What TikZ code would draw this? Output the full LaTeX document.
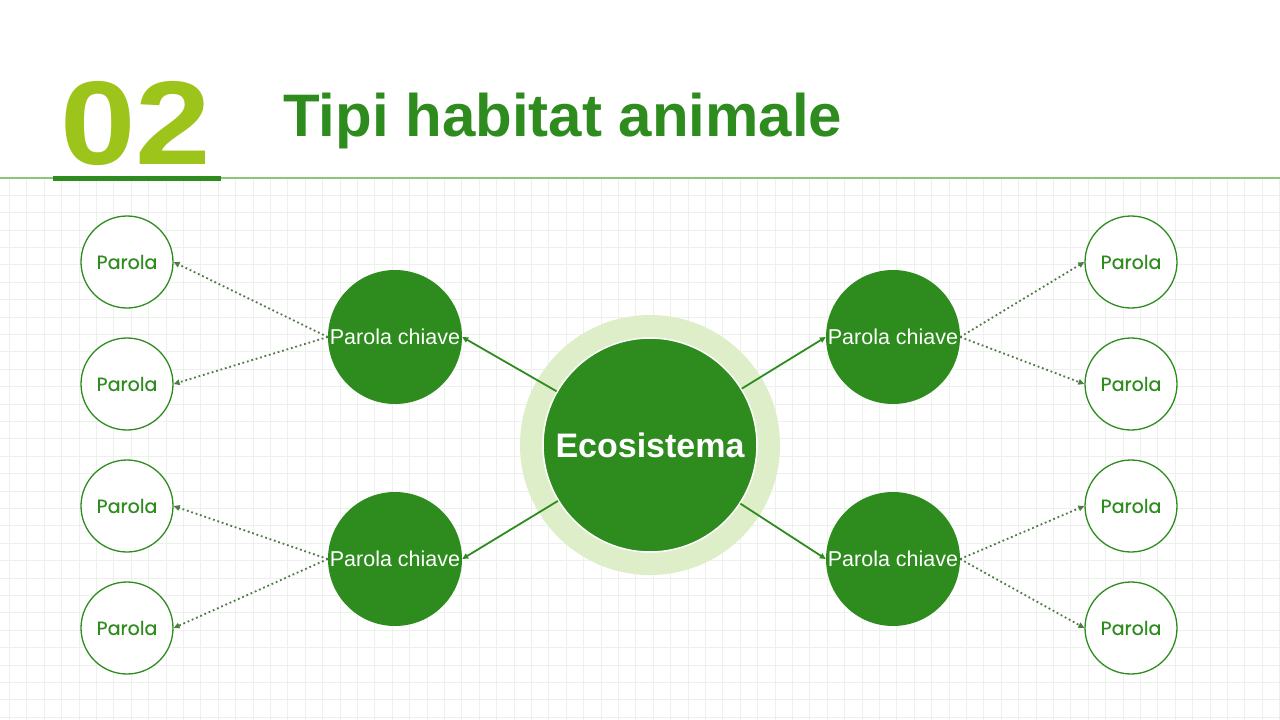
\documentclass[tikz,border=0pt]{standalone}
\usepackage{fontspec}
\setmainfont{Liberation Sans}
\newfontfamily\wordfont{Poppins}[FakeBold=0.5]
\usetikzlibrary{arrows.meta,positioning}
\definecolor{leafgreen}{RGB}{46,139,30}
\definecolor{limegreen}{RGB}{157,196,26}
\definecolor{ringgreen}{RGB}{221,238,200}
\definecolor{rulegreen}{RGB}{140,196,120}
\definecolor{dotgreen}{RGB}{78,122,68}
\definecolor{gridgray}{RGB}{237,240,237}
\tikzset{
  hub/.style={circle, fill=leafgreen, draw=white, line width=1.5pt,
    minimum size=214pt, inner sep=0pt, text=white,
    font=\fontsize{34}{40}\selectfont\bfseries},
  keyword/.style={circle, fill=leafgreen, minimum size=134pt, inner sep=0pt,
    text=white, font=\fontsize{21.5}{26}\selectfont},
  leaf/.style={circle, draw=leafgreen, fill=white, line width=1.3pt,
    minimum size=92pt, inner sep=0pt, text=leafgreen,
    font=\wordfont\fontsize{19}{22}\selectfont},
  spoke/.style={leafgreen, line width=1.8pt, -{Triangle[length=6pt,width=5.5pt]}},
  twig/.style={dotgreen, line width=1.8pt, dash pattern=on 1.8pt off 2.8pt,
    -{Triangle[length=6pt,width=5.5pt]}},
  gridline/.style={gridgray, line width=0.8pt}
}
\begin{document}
\begin{tikzpicture}[x=1pt, y=-1pt, line cap=butt]
  \useasboundingbox (0,0) rectangle (1280,720);
  \fill[white] (0,0) rectangle (1280,720);
  % background grid
  \foreach \gx in {9.3,26.7,...,1280}
    \draw[gridline] (\gx,178) -- (\gx,720);
  \foreach \gy in {195.1,212.5,...,720}
    \draw[gridline] (0,\gy) -- (1280,\gy);
  % header
  \draw[rulegreen, line width=1.5pt] (0,178) -- (1280,178);
  \fill[leafgreen] (53,175.5) rectangle (221,181);
  \node[anchor=base west, inner sep=0pt, text=limegreen, xscale=1.14, transform shape,
    font=\fontsize{119}{124}\selectfont\bfseries] (num) at (60,164.5) {02};
  \node[anchor=base west, inner sep=0pt, text=leafgreen,
    font=\fontsize{60}{70}\selectfont\bfseries] (title) at (283,136.5) {Tipi habitat animale};
  % centre
  \fill[ringgreen] (650,445) circle (130);
  \node[hub] (eco) at (650,445) {Ecosistema};
  % keywords
  \node[keyword] (kwa) at (395,337) {Parola chiave};
  \node[keyword] (kwb) at (395,559) {Parola chiave};
  \node[keyword] (kwc) at (893,337) {Parola chiave};
  \node[keyword] (kwd) at (893,559) {Parola chiave};
  % words
  \node[leaf] (wa) at (127,262) {Parola};
  \node[leaf] (wb) at (127,384) {Parola};
  \node[leaf] (wc) at (127,506) {Parola};
  \node[leaf] (wd) at (127,628) {Parola};
  \node[leaf] (we) at (1131,262) {Parola};
  \node[leaf] (wf) at (1131,384) {Parola};
  \node[leaf] (wg) at (1131,506) {Parola};
  \node[leaf] (wh) at (1131,628) {Parola};
  % connectors
  \draw[spoke] (eco) -- (kwa.east);
  \draw[spoke] (eco) -- (kwb.east);
  \draw[spoke] (eco) -- (kwc.west);
  \draw[spoke] (eco) -- (kwd.west);
  \draw[twig] (kwa.west) -- (wa.east);
  \draw[twig] (kwa.west) -- (wb.east);
  \draw[twig] (kwb.west) -- (wc.east);
  \draw[twig] (kwb.west) -- (wd.east);
  \draw[twig] (kwc.east) -- (we.west);
  \draw[twig] (kwc.east) -- (wf.west);
  \draw[twig] (kwd.east) -- (wg.west);
  \draw[twig] (kwd.east) -- (wh.west);
\end{tikzpicture}
\end{document}
